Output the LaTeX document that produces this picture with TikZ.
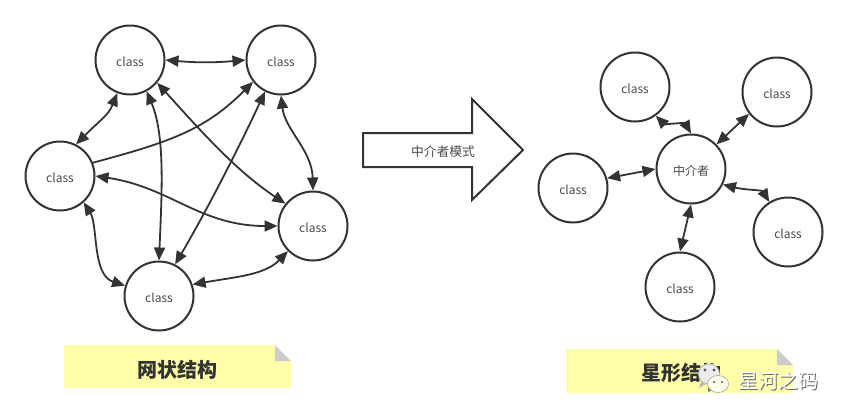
\documentclass[tikz,border=0pt]{standalone}
\usepackage{fontspec}
\setmainfont{Noto Sans CJK SC}
\usetikzlibrary{arrows.meta}
\definecolor{ink}{HTML}{333333}
\definecolor{txt}{HTML}{4A4A4A}
\definecolor{notey}{HTML}{FFFFAA}
\definecolor{foldg}{HTML}{CCCCCC}
\tikzset{
  cls/.style={circle,draw=ink,line width=2pt,minimum size=69pt,inner sep=0pt,fill=white,text=txt,text height=13.4pt,text depth=0pt,font=\fontsize{12}{14}\selectfont},
  link/.style={draw=ink,line width=1.8pt,{Triangle[length=13pt,width=11pt]}-{Triangle[length=13pt,width=11pt]},fill=none},
  onelink/.style={draw=ink,line width=1.8pt,-{Triangle[length=13pt,width=11pt]},fill=none},
  notetext/.style={text=ink,font=\fontsize{20}{22}\selectfont\bfseries,inner sep=0pt},
  wm/.style={inner sep=0pt,font=\fontsize{20}{22}\selectfont},
}
\begin{document}
\begin{tikzpicture}[x=1pt,y=-1pt]
\useasboundingbox (0,0) rectangle (848,418);
% left network
\node[cls] (tl) at (130,60) {class};
\node[cls] (tr) at (281,60) {class};
\node[cls] (l) at (60,176) {class};
\node[cls] (r) at (313,226) {class};
\node[cls] (b) at (159,296) {class};
\draw[link] (tl.0) to[out=-5,in=185] (tr.180);
\draw[link] (tl.249) .. controls (108,116) and (100,120) .. (l.63);
\draw[onelink] (l.22) .. controls (170,142) and (205,130) .. (tr.218);
\draw[link] (tl.298) .. controls (165,135) and (162,190) .. (b.90);
\draw[link] (tl.320) .. controls (200,130) and (235,170) .. (r.141);
\draw[link] (tr.243) .. controls (245,135) and (210,205) .. (b.63);
\draw[link] (tr.270) .. controls (285,130) and (312,150) .. (r.90);
\draw[link] (l.0) .. controls (170,187) and (200,226) .. (r.180);
\draw[link] (l.312) .. controls (98,225) and (92,275) .. (b.163);
\draw[link] (b.19) .. controls (235,277) and (265,275) .. (r.225);
% right star
\node[cls] (m) at (691,169) {中介者};
\node[cls] (s1) at (635,87) {class};
\node[cls] (s2) at (777,92) {class};
\node[cls] (s3) at (573,188) {class};
\node[cls] (s4) at (788,232) {class};
\node[cls] (s5) at (680,287) {class};
\draw[link] (s1.306) .. controls (664,124) and (685,123) .. (m.90);
\draw[link] (s2.218) -- (m.44);
\draw[link] (s3.16) -- (m.180);
\draw[link] (s4.122) .. controls (762,190) and (745,190) .. (m.334);
\draw[link] (s5.90) -- (m.270);
% block arrow
\draw[draw=ink,line width=2pt,miter limit=10,fill=white] (363,133) -- (472,133) -- (472,99) -- (523,150) -- (472,200) -- (472,167) -- (363,167) -- cycle;
\node[text=txt,inner sep=0pt,font=\fontsize{12.8}{14}\selectfont] (arrowlabel) at (443,152) {中介者模式};
% notes
\fill[notey] (64,345) -- (275,345) -- (291,361) -- (291,388) -- (64,388) -- cycle;
\fill[foldg] (275,345) -- (291,361) -- (275,361) -- cycle;
\node[notetext] (n1) at (177,370) {网状结构};
\fill[notey] (566,349) -- (777,349) -- (793,365) -- (793,393) -- (566,393) -- cycle;
\fill[foldg] (777,349) -- (793,365) -- (777,365) -- cycle;
\node[notetext] (n2) at (681,373) {星形结构};
% watermark
\fill[gray!55] (709,374) ellipse (11pt and 10.5pt);
\fill[gray!15] (709,374) ellipse (10pt and 9.5pt);
\fill[gray!55] (701,382) -- (699,388) -- (706,384) -- cycle;
\fill[black!65] (705,370) circle (1.6pt) (714,370) circle (1.6pt);
\fill[black!55] (708,392) -- (713,390) -- (708,386) -- cycle;
\fill[white!92!yellow,draw=gray!70,line width=.6pt] (718,384) ellipse (10.5pt and 8.5pt);
\fill[black!65] (714,382) circle (1.2pt) (722,382) circle (1.2pt);
\node[wm,text=black!60] (w0) at (779.6,381.6) {星河之码};
\node[wm,text=white] (w1) at (778.6,380.6) {星河之码};
\end{tikzpicture}
\end{document}
